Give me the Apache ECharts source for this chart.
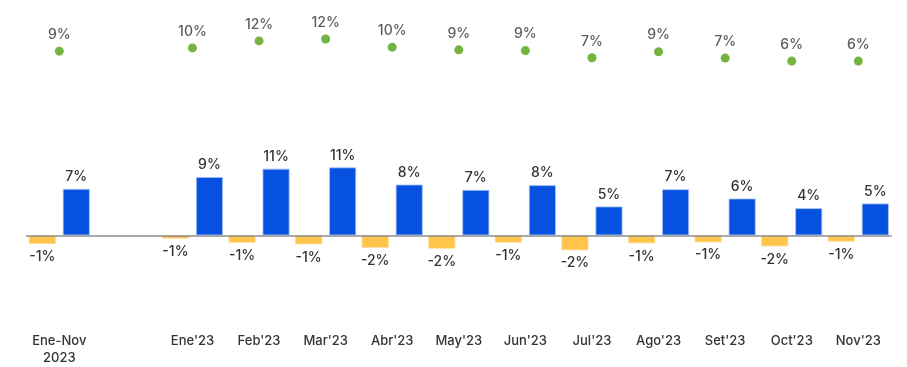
<!DOCTYPE html>
<html>
<head>
<meta charset="utf-8">
<script src="https://cdn.jsdelivr.net/npm/echarts@6/dist/echarts.min.js"></script>
<style>html,body{margin:0;padding:0;background:#fff}#c{width:907px;height:367px}</style>
</head>
<body>
<div id="c"></div>
<script>
var categories = ["Ene-Nov\n2023", "", "Ene'23", "Feb'23", "Mar'23", "Abr'23", "May'23", "Jun'23", "Jul'23", "Ago'23", "Set'23", "Oct'23", "Nov'23"];
var negValues = [-1.37, null, -0.52, -1.17, -1.43, -1.97, -2.11, -1.16, -2.38, -1.27, -1.11, -1.75, -1.0];
var barValues = [7.41, null, 9.30, 10.63, 10.84, 8.10, 7.25, 8.0, 4.6, 7.35, 5.87, 4.33, 5.08];
var dotValues = [8.97, null, 9.91, 11.91, 12.45, 10.11, 9.34, 9.14, 7.06, 8.8, 6.97, 6.11, 6.11];

var fmt = function (p) { return Math.round(p.value) + '%'; };
var font = 'Inter, "Noto Sans", sans-serif';
var chart = echarts.init(document.getElementById('c'));
chart.setOption({
  animation: false,
  grid: { left: 26, right: 15.4, top: 22.3, height: 277.2 },
  xAxis: {
    type: 'category',
    data: categories,
    axisLine: { show: false },
    axisTick: { show: false },
    axisLabel: { color: '#333', fontSize: 13, fontWeight: 500, fontFamily: font, margin: 35, lineHeight: 17, interval: 0 }
  },
  yAxis: [
    { type: 'value', min: -10, max: 34, show: false, splitLine: { show: false } },
    { type: 'value', min: -61.94, max: 17.26, show: false, splitLine: { show: false } }
  ],
  series: [
    {
      type: 'bar', data: negValues, barWidth: 27, barGap: '26%',
      itemStyle: { color: '#FFC44A', borderColor: '#FFDB8A', borderWidth: 0.8 },
      label: { show: true, position: 'bottom', distance: 6, formatter: fmt, color: '#333', fontSize: 14, fontWeight: 500, fontFamily: font },
      markLine: {
        silent: true, symbol: 'none', label: { show: false },
        lineStyle: { color: '#8c8c8c', width: 1.5, type: 'solid' },
        data: [{ yAxis: 0 }]
      }
    },
    {
      type: 'bar', data: barValues, barWidth: 27,
      itemStyle: { color: '#0651DF', borderColor: '#A9C3F5', borderWidth: 0.8 },
      label: { show: true, position: 'top', distance: 5, formatter: fmt, color: '#333', fontSize: 14, fontWeight: 500, fontFamily: font }
    },
    {
      type: 'scatter', yAxisIndex: 1, data: dotValues, symbolSize: 9, clip: false,
      itemStyle: { color: '#52A012' },
      label: { show: true, position: 'top', distance: 5, formatter: fmt, color: '#333', fontSize: 14, fontWeight: 500, fontFamily: font }
    }
  ]
});
</script>
</body>
</html>
